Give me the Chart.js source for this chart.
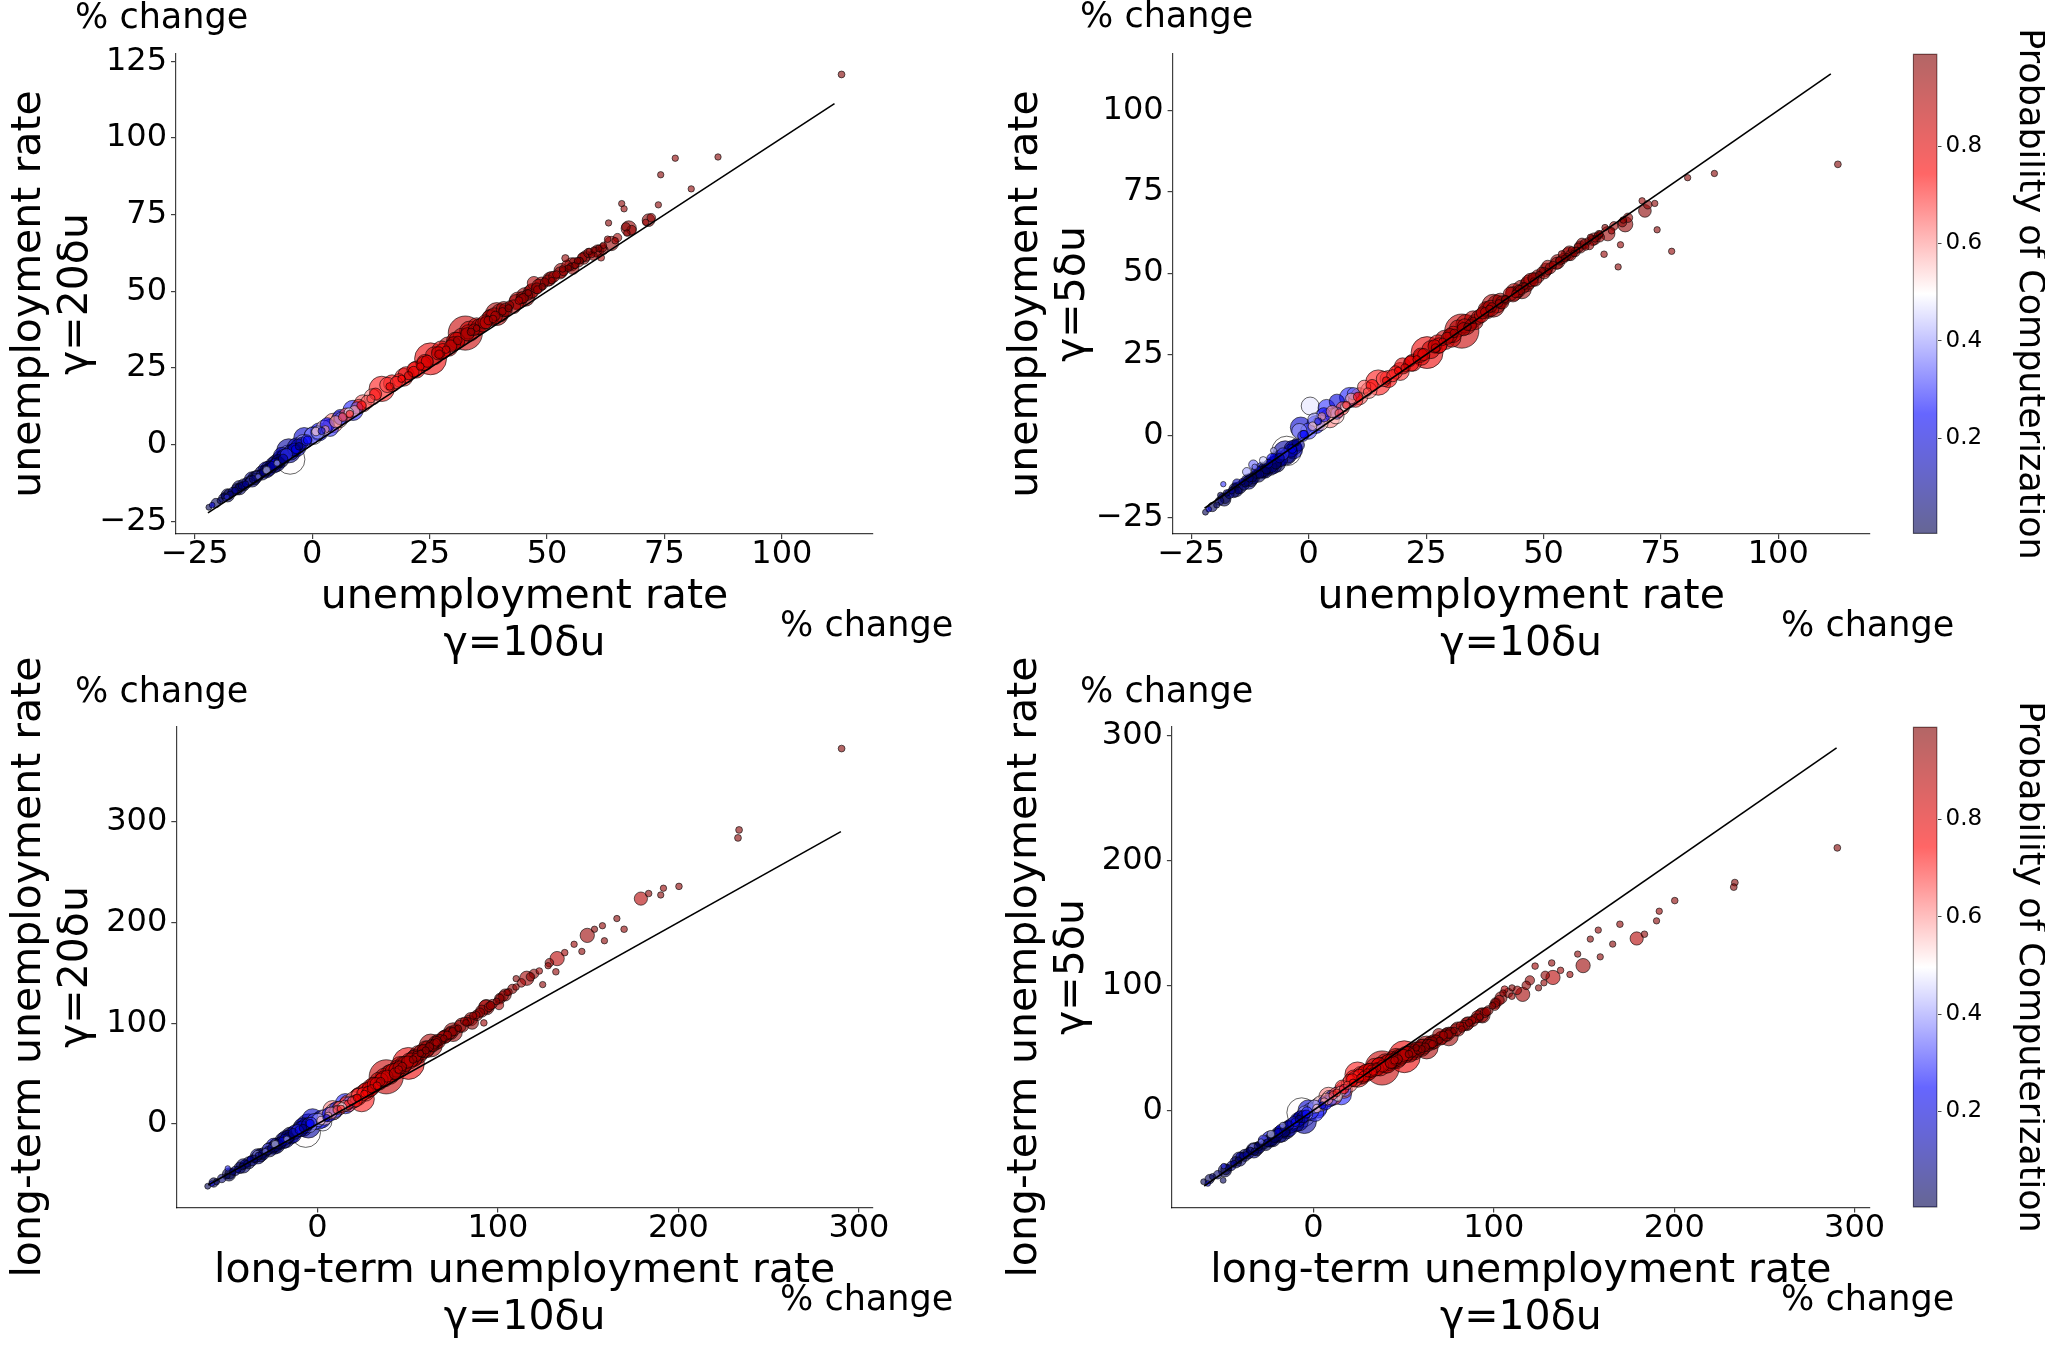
<!DOCTYPE html>
<html><head><meta charset="utf-8">
<script src="https://cdn.jsdelivr.net/npm/chart.js@4.4.1/dist/chart.umd.min.js"></script>
<style>
html,body{margin:0;padding:0;background:#fff;}
body{width:2045px;height:1346px;position:relative;overflow:hidden;font-family:"DejaVu Sans";}
canvas{position:absolute;}
.t{position:absolute;width:0;height:0;transform-origin:0 0;}
.t span{position:absolute;white-space:nowrap;font-family:"DejaVu Sans";color:#000;}
</style></head><body>
<script>
// ---- data (one entry per occupation) ----
const probability = [.85,.78,.50,.72,.12,.90,.18,.28,.62,.93,.47,.30,.15,.95,.88,.92,.94,.91,.89,.65,.97,.93,.70,.95,.35,.08,.90,.96,.80,.04,
.01,.20,.03,.02,.30,.05,.10,.01,.06,.14,.02,.05,.03,.38,.01,.07,.02,.15,.42,.03,.12,.22,.08,.25,.55,.20,.58,.68,.72,.75,
.68,.80,.74,.84,.78,.88,.86,.92,.95,.90,.93,.97,.89,.96,.92,.98,.91,.94,.95,.93,.97,.96,.90,.95,.98,.93,.97,.95,.96,.94,
.97,.98,.96,.97,.98,.99,.96,.97,.98,.95,.97,.98,.98,.93,.90,.91,.95,
.02,.05,.01,.08,.03,.15,.02,.06,.10,.01,.04,.18,.03,.09,.02,.12,.05,.25,.07,.02,.10,.30,.06,.16,.22,.10,.28,.35,.45,.40,
.32,.40,.55,.25,.60,.20,.66,.35,.70,.62,.75,.58,.68,.73,.48,
.80,.77,.82,.85,.79,.87,.83,.90,.86,.92,.89,.94,.91,.95,.93,.96,.90,.97,.92,.95,.94,.96,.93,.97,.95,.98,.94,.96,.93,.97,.95,.96,.98,.88,.91,.86,.84,.81,.92,.95,.97,.94,.96,.93,.98,
.83,.80,.88,.92,.95,.90,.94,.96,.93,.91,.97,.86,.75,.70,.78,.89,.95,.93,.87,.98,.10,.05,.20,.08,.15,.25,.40,.03,.55,.65];
const employment = [4000,3500,3000,2200,2000,1800,1500,1400,1300,1200,1100,1000,900,800,700,700,700,650,600,600,550,500,500,500,500,450,450,400,400,400,
120,110,130,120,100,150,140,170,160,130,200,190,230,110,260,210,300,260,130,350,300,250,200,220,250,180,200,250,200,300,
220,200,180,220,200,250,200,250,200,250,200,180,200,150,220,150,200,150,180,150,160,150,170,150,140,150,140,140,150,140,
140,140,140,140,140,160,150,150,140,140,150,160,160,150,300,200,150,
300,250,350,300,450,250,500,400,350,600,500,300,700,450,800,500,900,400,600,1000,700,500,800,600,700,500,400,300,200,250,
900,600,800,700,500,800,600,500,700,900,500,400,800,600,300,
900,1000,700,1100,800,1300,900,1000,1400,800,700,900,1100,600,800,500,700,400,600,450,400,500,350,400,300,300,350,300,250,250,300,250,250,500,600,500,600,500,300,300,250,250,300,250,250,
1200,900,1000,900,800,1000,700,600,700,600,500,1100,1000,1100,800,900,500,600,700,400,800,700,900,1000,1200,1100,800,600,900,1000];
const unempGamma10 = [32.6,25.2,-4.7,14.8,-5.0,39.3,-1.7,8.7,4.5,45.4,0.3,3.8,-6.5,67.4,36.2,30.1,63.7,42.9,47.2,11.8,71.6,50.9,17.9,55.5,6.0,-8.0,34.5,58.2,21.6,-9.5,
-22.0,-21.3,-19.6,-18.8,-18.2,-17.5,-16.4,-15.7,-15.0,-14.2,-13.5,-12.6,-12.0,-11.5,-11.0,-10.4,-9.0,-8.6,-7.5,-7.0,-6.2,-3.5,-2.8,-1.0,0.8,2.0,2.8,6.5,8.0,10.5,
12.5,16.5,19.0,20.5,23.0,27.0,28.5,31.0,33.8,37.5,40.5,41.8,44.0,46.0,48.0,49.0,52.0,53.3,53.9,56.0,57.0,59.5,61.5,62.9,63.1,64.5,65.9,66.4,67.0,71.0,
73.7,74.2,77.3,80.7,86.4,112.7,59.0,61.0,60.0,62.0,56.5,55.0,54.5,51.0,44.5,38.5,35.0,
-20.5,-19.0,-17.8,-16.9,-16.0,-15.3,-14.6,-13.8,-13.0,-12.3,-11.8,-11.2,-10.7,-10.0,-9.3,-8.8,-8.2,-7.8,-7.2,-6.8,-6.0,-5.5,-4.5,-3.8,-3.0,-2.2,-1.2,-11.8,-9.7,-13.2,
0.0,1.2,2.5,3.2,5.0,6.0,7.2,9.5,10.0,12.8,13.5,9.0,16.0,18.5,7.8,
20.0,22.2,23.8,26.0,27.8,29.0,30.8,31.8,33.5,35.5,36.8,38.0,40.0,41.2,43.5,44.8,46.5,47.8,48.8,50.2,51.5,52.8,54.2,55.8,57.5,58.8,60.5,62.0,65.0,66.8,68.0,72.2,42.0,37.0,33.0,29.5,26.8,24.5,39.0,45.0,49.5,53.5,56.8,59.8,61.8,
27.5,24.0,35.0,37.8,40.8,43.8,46.8,50.5,53.0,55.2,57.8,30.5,17.0,19.5,21.8,38.8,60.8,48.2,33.2,45.8,-12.8,-15.5,-9.8,-7.6,-3.3,1.5,-2.0,-18.0,5.8,10.8];
const unempGamma20 = [36.4,28.0,-4.8,18.2,-2.0,42.6,2.2,11.2,7.1,48.2,3.0,5.5,-3.5,70.5,39.1,32.9,65.6,45.0,52.7,14.0,73.2,54.5,20.3,57.5,8.5,-6.5,37.5,61.5,23.8,-8.0,
-20.4,-19.7,-18.2,-16.6,-17.0,-16.2,-14.9,-13.9,-13.4,-12.8,-12.0,-11.2,-10.6,-10.4,-9.7,-9.0,-7.5,-6.9,-6.0,-5.6,-4.6,-1.5,-0.5,1.5,4.3,4.5,5.0,9.0,10.0,12.8,
15.0,19.0,21.5,22.5,25.5,29.5,31.0,34.0,36.8,40.5,43.5,44.5,47.0,49.5,50.5,51.5,55.5,57.3,60.8,58.5,60.0,62.0,61.0,67.0,72.3,66.5,78.6,76.9,69.0,72.5,
78.2,88.0,93.4,83.4,93.8,120.7,63.0,64.0,63.5,65.0,60.0,58.0,57.5,53.5,47.5,41.0,38.0,
-19.0,-17.4,-16.2,-15.4,-14.5,-13.8,-13.1,-12.3,-11.6,-10.9,-10.3,-9.8,-9.2,-8.5,-7.8,-7.2,-6.6,-6.2,-5.4,-4.8,-3.8,-3.2,-2.5,-1.6,-0.5,0.5,1.5,-10.2,-8.3,-11.8,
3.0,4.0,5.5,6.5,7.5,9.0,9.8,12.0,12.5,15.6,16.5,11.0,19.5,21.0,10.5,
22.8,24.5,26.5,29.0,30.5,32.0,34.0,35.2,37.0,38.5,40.0,41.5,43.0,44.0,46.5,48.0,49.8,51.0,52.5,53.5,54.8,56.0,58.5,59.2,61.0,62.5,62.8,63.5,67.5,71.0,70.0,74.0,45.5,39.8,36.0,32.2,29.8,27.2,42.0,47.8,53.0,56.5,59.5,61.5,64.2,
30.8,26.8,38.6,41.2,44.2,47.0,50.2,54.0,56.8,58.8,60.8,33.8,20.0,22.0,24.5,42.0,63.2,51.8,36.8,48.8,-11.3,-14.0,-8.2,-6.0,-0.8,4.2,0.8,-16.5,8.2,13.5];
const unempGamma5 = [32.2,25.6,-4.6,16.4,-5.2,40.0,2.6,11.8,5.5,45.0,9.2,8.6,-7.0,65.0,36.5,30.8,62.1,43.6,47.9,15.1,69.1,52.1,18.5,56.5,7.0,-9.5,34.0,59.1,23.0,-10.8,
-23.4,-22.5,-21.2,-18.2,-14.8,-17.5,-16.8,-15.7,-16.8,-14.0,-14.5,-13.0,-12.8,-9.5,-11.8,-11.8,-10.2,-8.5,-4.5,-8.6,-6.8,-4.0,-2.0,0.5,3.0,4.5,6.0,7.0,9.5,12.0,
13.5,17.0,20.0,20.9,23.5,27.0,28.9,31.5,33.5,38.1,40.7,42.0,43.6,46.0,47.3,49.5,52.5,54.0,55.8,57.1,57.0,59.9,61.4,55.8,64.0,63.0,51.9,58.7,66.3,72.2,
71.4,63.3,56.7,79.3,80.6,83.4,58.0,60.5,61.0,62.0,56.0,55.0,54.5,50.5,44.0,39.0,35.5,
-21.8,-20.0,-19.2,-17.8,-17.2,-14.5,-15.8,-15.0,-13.8,-13.5,-12.9,-10.5,-12.0,-11.0,-10.6,-9.8,-9.6,-7.0,-8.2,-8.5,-7.2,-5.5,-6.0,-4.5,-3.5,-2.8,0.0,-8.8,-7.5,-11.0,
1.5,5.0,4.0,6.5,7.5,10.5,8.5,13.0,11.0,14.0,15.5,11.5,17.5,19.5,9.0,
21.5,22.5,24.8,26.5,27.8,29.5,31.2,33.0,34.2,35.0,37.0,38.5,40.5,41.0,43.5,44.5,46.5,48.5,49.0,50.0,51.5,53.0,54.5,55.5,57.8,59.0,60.0,61.0,64.5,65.5,67.0,71.0,41.8,37.8,32.8,30.0,27.5,25.0,39.5,44.8,50.5,53.8,56.5,58.5,61.8,
28.2,24.2,35.8,38.8,41.5,44.2,47.2,51.0,53.5,55.8,58.0,30.0,17.5,19.8,22.2,39.2,60.5,48.0,33.8,45.5,-14.0,-16.5,-10.5,-9.0,-4.2,3.5,1.5,-19.5,6.2,12.2];
const longTermGamma10 = [38.1,50.4,-6.5,24.5,-5.0,62.8,-2.7,15.5,8.4,75.1,3.0,1.0,-13.5,93.7,132.8,116.0,149.5,93.2,179.2,12.0,85.7,64.0,20.0,69.5,10.0,-20.0,43.0,101.1,28.0,-23.0,
-60.8,-58.5,-55.9,-50.0,-49.7,-47.0,-44.0,-41.5,-39.0,-37.3,-35.0,-32.5,-30.5,-29.0,-27.4,-25.5,-21.5,-19.5,-17.0,-16.0,-13.5,-10.0,-8.0,-4.0,2.0,5.0,6.0,11.0,13.0,17.0,
19.0,22.0,26.0,30.0,33.0,35.0,45.0,47.0,53.0,55.0,58.0,60.0,66.0,70.0,72.0,78.0,81.3,82.3,86.3,92.2,99.2,105.1,106.0,110.0,110.1,122.9,124.8,127.8,132.1,142.2,
146.5,153.5,157.9,159.0,165.9,290.4,169.9,183.5,190.2,191.7,200.3,233.6,233.0,137.0,100.6,88.0,57.0,
-57.5,-53.0,-48.5,-45.5,-43.0,-40.5,-38.0,-36.0,-34.0,-31.5,-30.0,-28.0,-26.5,-24.5,-22.5,-21.0,-19.0,-18.0,-16.5,-15.0,-12.5,-11.0,-9.5,-8.5,-7.0,-5.5,-3.5,-27.8,-23.5,-33.5,
-1.5,0.5,4.0,6.5,7.5,10.5,12.5,17.5,16.0,20.0,21.5,15.0,23.0,25.5,13.5,
27.0,29.5,31.5,34.0,36.5,40.0,42.0,44.5,46.0,48.5,52.0,54.0,56.0,59.0,61.0,63.5,65.5,68.0,71.0,73.5,76.0,79.0,84.0,88.5,95.0,97.0,103.0,108.0,113.0,118.0,120.0,128.5,62.0,50.0,45.5,38.5,35.5,32.5,55.0,64.5,75.0,83.0,90.0,96.0,101.0,
37.0,31.0,47.5,53.5,57.5,60.0,67.0,74.0,80.0,85.0,91.0,41.0,22.5,26.5,29.0,51.0,104.0,70.5,43.5,66.0,-33.0,-41.0,-24.0,-17.5,-8.0,2.5,-4.5,-49.0,9.0,17.0];
const longTermGamma20 = [46.8,60.1,-8.5,24.7,-1.9,77.9,4.8,20.2,13.6,91.1,2.0,3.5,-10.7,115.9,164.1,144.6,187.1,116.3,223.6,16.0,100.3,77.4,22.0,86.2,12.0,-18.0,50.0,124.3,32.0,-22.0,
-61.7,-59.0,-57.2,-51.5,-44.0,-47.5,-45.0,-42.0,-39.5,-35.1,-34.5,-31.5,-30.0,-27.0,-26.5,-24.0,-20.0,-17.5,-15.0,-13.5,-9.0,-6.0,-4.0,0.5,3.5,6.0,8.0,14.0,15.0,19.0,
23.0,26.0,30.0,35.0,38.0,42.0,54.0,57.0,64.0,66.0,70.0,73.0,81.0,85.0,88.0,95.0,102.2,100.3,107.4,100.3,121.6,130.5,131.0,135.9,144.2,151.8,138.3,157.0,151.0,178.3,
171.2,193.2,196.7,181.8,203.8,372.4,193.2,228.6,227.2,233.9,235.7,291.7,283.8,170.0,118.0,108.0,70.0,
-58.0,-54.0,-49.5,-46.5,-43.5,-40.0,-38.5,-36.0,-33.0,-31.0,-29.5,-26.5,-25.5,-23.0,-21.5,-19.5,-16.5,-15.5,-13.0,-11.5,-8.0,-6.5,-5.0,-3.5,-2.0,-0.5,1.5,-24.0,-20.0,-30.5,
2.5,4.0,6.5,9.5,11.0,14.5,16.0,21.0,20.0,24.0,23.0,18.0,28.0,30.0,16.5,
33.0,36.0,39.0,42.5,45.0,49.0,52.0,55.0,57.0,59.5,63.5,66.0,69.0,72.5,75.0,78.0,80.5,83.5,87.0,90.0,93.0,97.0,103.0,108.0,116.0,119.0,127.0,134.0,140.0,146.0,149.0,160.0,76.5,61.5,56.0,47.5,44.0,40.0,67.5,79.0,91.5,101.5,110.5,117.5,124.5,
46.0,38.5,58.5,65.0,71.0,74.0,82.0,90.5,98.0,104.0,112.0,50.5,27.0,31.5,34.5,62.5,128.0,86.5,53.5,81.5,-32.0,-41.5,-22.0,-15.0,-3.0,5.0,-1.0,-50.0,12.5,20.5];
const longTermGamma5 = [33.9,42.9,-1.8,28.6,-8.9,50.3,0.0,12.5,10.7,59.1,3.0,-2.0,-14.5,76.0,106.3,92.8,115.8,76.0,137.5,10.0,69.8,53.6,24.0,60.7,9.0,-20.0,38.0,85.8,27.0,-24.0,
-57.1,-58.5,-53.0,-56.0,-44.6,-46.0,-42.5,-40.0,-36.5,-35.5,-32.4,-33.0,-29.0,-25.0,-27.5,-26.0,-22.0,-18.0,-12.0,-17.0,-12.0,-9.5,-7.0,-3.0,1.5,4.0,7.0,12.0,14.0,17.0,
20.0,22.0,26.0,30.0,31.0,34.0,40.0,41.0,45.0,46.0,48.0,49.0,53.0,56.0,60.0,63.9,67.8,65.0,70.0,74.7,83.7,93.8,96.8,91.3,98.0,115.4,98.0,102.0,117.9,108.7,
125.0,137.0,144.2,122.8,133.0,210.0,148.9,140.9,151.6,159.3,167.8,182.2,178.6,112.0,83.7,72.0,50.0,
-55.0,-51.5,-47.5,-44.5,-41.5,-37.0,-36.0,-34.5,-31.5,-31.0,-29.5,-24.5,-26.5,-24.5,-23.0,-20.5,-19.5,-15.5,-16.5,-16.0,-12.5,-10.0,-11.0,-8.0,-6.0,-5.0,-1.5,-23.5,-19.0,-30.0,
-0.5,3.0,5.5,6.0,9.0,10.0,13.0,16.0,18.5,21.0,24.5,15.0,25.0,27.5,11.0,
28.0,30.0,32.0,34.5,36.0,37.5,38.5,40.5,41.5,43.0,45.5,46.5,47.5,49.5,51.0,52.0,54.0,56.0,58.0,60.0,62.0,64.5,68.0,71.5,78.0,80.0,88.0,94.0,96.0,100.0,104.0,108.0,50.5,44.0,41.0,35.5,33.0,31.5,47.0,53.0,61.0,67.0,73.5,79.0,86.0,
35.0,31.0,42.0,45.0,48.5,50.0,55.0,60.5,65.0,69.0,75.0,37.0,25.5,28.0,30.5,44.5,90.0,57.5,39.5,54.5,-32.0,-39.0,-23.0,-18.5,-9.0,1.0,-2.5,-48.0,9.5,16.5];

// identity (y = x) reference line extents
const identityTop = [-22.2, 111.2];
const identityBottom = [-60.5, 290];

// tick labels
const ticksTopX = [-25, 0, 25, 50, 75, 100];
const ticksTopLeftY = [-25, 0, 25, 50, 75, 100, 125];
const ticksTopRightY = [-25, 0, 25, 50, 75, 100];
const ticksBottomX = [0, 100, 200, 300];
const ticksBottomY = [0, 100, 200, 300];
const ticksColorbar = [0.2, 0.4, 0.6, 0.8];
const probRange = [0.0028, 0.99];

// ---- helpers ----
const FONT = 'DejaVu Sans';
const SEISMIC = [[0,0,0.3],[0,0,1],[1,1,1],[1,0,0],[0.5,0,0]];
function seismic(t) {
  t = Math.max(0, Math.min(1, t));
  const s = t * 4, i = Math.min(3, Math.floor(s)), f = s - i;
  const a = SEISMIC[i], b = SEISMIC[i + 1];
  return [0,1,2].map(k => Math.round(255 * (a[k] + (b[k] - a[k]) * f)));
}
function colorOf(p, alpha) {
  const c = seismic((p - probRange[0]) / (probRange[1] - probRange[0]));
  return `rgba(${c[0]},${c[1]},${c[2]},${alpha})`;
}
function radiusOf(emp) { return 0.27 * Math.sqrt(emp); }
function fmt(v) { return v < 0 ? '\u2212' + Math.abs(v) : String(v); }
// draw larger occupations first so that small ones stay visible
const drawOrder = employment.map((e, i) => i).sort((a, b) => employment[b] - employment[a]);

function addText(txt, x, y, size, rot, align) {
  const w = document.createElement('div'); w.className = 't';
  w.style.left = x + 'px'; w.style.top = y + 'px';
  if (rot) w.style.transform = 'rotate(' + rot + 'deg)';
  const s = document.createElement('span'); s.textContent = txt;
  s.style.fontSize = size + 'px';
  s.style.lineHeight = (1.164 * size) + 'px';
  s.style.top = (-0.928 * size) + 'px';
  if (align === 'center') { s.style.left = '-1000px'; s.style.width = '2000px'; s.style.textAlign = 'center'; }
  else { s.style.left = '0px'; }
  w.appendChild(s); document.body.appendChild(w);
}

function makeCanvas(x, y, w, h) {
  const c = document.createElement('canvas');
  c.width = w; c.height = h;
  c.style.left = x + 'px'; c.style.top = y + 'px';
  c.style.width = w + 'px'; c.style.height = h + 'px';
  document.body.appendChild(c);
  return c;
}

const YW = 120, XH = 60;
function makePanel(p) {
  const c = makeCanvas(p.cx, p.cy, p.cw, p.ch);
  const area = p.area;
  const pad = {
    left: area.L - p.cx - YW,
    top: area.T - p.cy,
    right: p.cx + p.cw - area.R,
    bottom: p.cy + p.ch - area.B - XH
  };
  const pts = drawOrder.map(i => ({ x: p.xs[i], y: p.ys[i], r: radiusOf(employment[i]) }));
  const cols = drawOrder.map(i => colorOf(probability[i], 0.6));
  const axisCommon = (ticks, range) => ({
    type: 'linear', min: range[0], max: range[1],
    afterBuildTicks: s => { s.ticks = ticks.map(v => ({ value: v })); },
    grid: { display: true, drawOnChartArea: false, drawTicks: true, tickLength: 5, color: 'rgba(0,0,0,0.75)', lineWidth: 1.2 },
    border: { display: true, color: 'rgba(0,0,0,0.75)', width: 1.2 },
  });
  const xAxis = Object.assign(axisCommon(p.xticks, p.xrange), {
    position: 'bottom',
    ticks: { font: { family: FONT, size: 32, lineHeight: 1 }, color: '#000', padding: 0, maxRotation: 0, autoSkip: false, callback: v => fmt(v) },
    afterFit: s => { s.height = XH; }
  });
  const yAxis = Object.assign(axisCommon(p.yticks, p.yrange), {
    position: 'left',
    ticks: { font: { family: FONT, size: 32, lineHeight: 1 }, color: '#000', padding: 4, autoSkip: false, callback: v => fmt(v) },
    afterFit: s => { s.width = YW; }
  });
  new Chart(c, {
    type: 'bubble',
    data: {
      datasets: [
        { type: 'line', data: [{ x: p.line[0], y: p.line[0] }, { x: p.line[1], y: p.line[1] }],
          borderColor: '#000', borderWidth: 1.6, pointRadius: 0, fill: false, tension: 0 },
        { type: 'bubble', data: pts, backgroundColor: cols,
          borderColor: 'rgba(0,0,0,0.6)', borderWidth: 1 }
      ]
    },
    options: {
      responsive: false, animation: false, events: [],
      layout: { padding: pad },
      plugins: { legend: { display: false }, tooltip: { enabled: false } },
      scales: { x: xAxis, y: yAxis }
    }
  });
  const cxMid = (area.L + area.R) / 2, cyMid = (area.T + area.B) / 2;
  addText('% change', p.pcTop[0], p.pcTop[1], 35);
  addText('% change', p.pcBot[0], p.pcBot[1], 35);
  addText(p.xlabel[0], cxMid, area.B + 75, 41, 0, 'center');
  addText(p.xlabel[1], cxMid, area.B + 122, 41, 0, 'center');
  addText(p.ylabel[0], area.L - 135, cyMid, 41, -90, 'center');
  addText(p.ylabel[1], area.L - 88, cyMid, 41, -90, 'center');
}

function makeColorbar(cy, area) {
  const cx = 1900, cw = 120, ch = 673;
  const c = makeCanvas(cx, cy, cw, ch);
  const pad = { left: area.L - cx, top: area.T - cy, right: 0, bottom: cy + ch - area.B };
  new Chart(c, {
    type: 'bar',
    data: {
      labels: ['p'],
      datasets: [{
        data: [[probRange[0], probRange[1]]],
        backgroundColor: ctx => {
          const ch2 = ctx.chart, a = ch2.chartArea;
          if (!a) return 'rgba(0,0,0,0)';
          const g = ch2.ctx.createLinearGradient(0, a.bottom, 0, a.top);
          for (let k = 0; k <= 40; k++) { const t = k / 40; const col = seismic(t); g.addColorStop(t, `rgba(${col[0]},${col[1]},${col[2]},0.6)`); }
          return g;
        },
        borderColor: 'rgba(0,0,0,0.6)', borderWidth: 1, borderSkipped: false,
        barPercentage: 1, categoryPercentage: 1
      }]
    },
    options: {
      responsive: false, animation: false, events: [],
      layout: { padding: pad },
      plugins: { legend: { display: false }, tooltip: { enabled: false } },
      scales: {
        x: { display: false, offset: true },
        y: {
          type: 'linear', position: 'right', min: probRange[0], max: probRange[1],
          afterBuildTicks: s => { s.ticks = ticksColorbar.map(v => ({ value: v })); },
          grid: { display: true, drawOnChartArea: false, drawTicks: true, tickLength: 4, color: 'rgba(0,0,0,0.75)' },
          border: { display: false },
          ticks: { font: { family: FONT, size: 23 }, color: '#000', padding: 4, callback: v => v.toFixed(1) },
          afterFit: s => { s.width = cw - (area.R - cx); }
        }
      }
    }
  });
  addText('Probability of Computerization', 2020, (area.T + area.B) / 2, 35, 90, 'center');
}

const topXLabel = ['unemployment rate', '\u03b3=10\u03b4u'];
const botXLabel = ['long-term unemployment rate', '\u03b3=10\u03b4u'];

makePanel({ cx: 0, cy: 0, cw: 1000, ch: 673, area: { L: 176, T: 53.6, R: 873, B: 534 },
  xs: unempGamma10, ys: unempGamma20, xrange: [-29, 119.4], yrange: [-29.1, 127.5],
  xticks: ticksTopX, yticks: ticksTopLeftY, line: identityTop,
  pcTop: [75, 28], pcBot: [780, 636], xlabel: topXLabel, ylabel: ['unemployment rate', '\u03b3=20\u03b4u'] });
makePanel({ cx: 1000, cy: 0, cw: 900, ch: 673, area: { L: 1172.6, T: 53.6, R: 1869.8, B: 534 },
  xs: unempGamma10, ys: unempGamma5, xrange: [-29, 119.5], yrange: [-30.1, 117.4],
  xticks: ticksTopX, yticks: ticksTopRightY, line: identityTop,
  pcTop: [1080, 27], pcBot: [1781, 636], xlabel: topXLabel, ylabel: ['unemployment rate', '\u03b3=5\u03b4u'] });
makePanel({ cx: 0, cy: 673, cw: 1000, ch: 673, area: { L: 176.3, T: 726.6, R: 873, B: 1207.6 },
  xs: longTermGamma10, ys: longTermGamma20, xrange: [-78.2, 307.8], yrange: [-82.9, 394.2],
  xticks: ticksBottomX, yticks: ticksBottomY, line: identityBottom,
  pcTop: [75, 702], pcBot: [780, 1310], xlabel: botXLabel, ylabel: ['long-term unemployment rate', '\u03b3=20\u03b4u'] });
makePanel({ cx: 1000, cy: 673, cw: 900, ch: 673, area: { L: 1171.9, T: 726.6, R: 1869.8, B: 1207.6 },
  xs: longTermGamma10, ys: longTermGamma5, xrange: [-78.4, 308.4], yrange: [-77.8, 307],
  xticks: ticksBottomX, yticks: ticksBottomY, line: identityBottom,
  pcTop: [1080, 702], pcBot: [1781, 1310], xlabel: botXLabel, ylabel: ['long-term unemployment rate', '\u03b3=5\u03b4u'] });

makeColorbar(0, { L: 1912.7, T: 53.6, R: 1937.5, B: 534 });
makeColorbar(673, { L: 1912.7, T: 726.6, R: 1937.5, B: 1207.6 });
</script>
</body></html>
